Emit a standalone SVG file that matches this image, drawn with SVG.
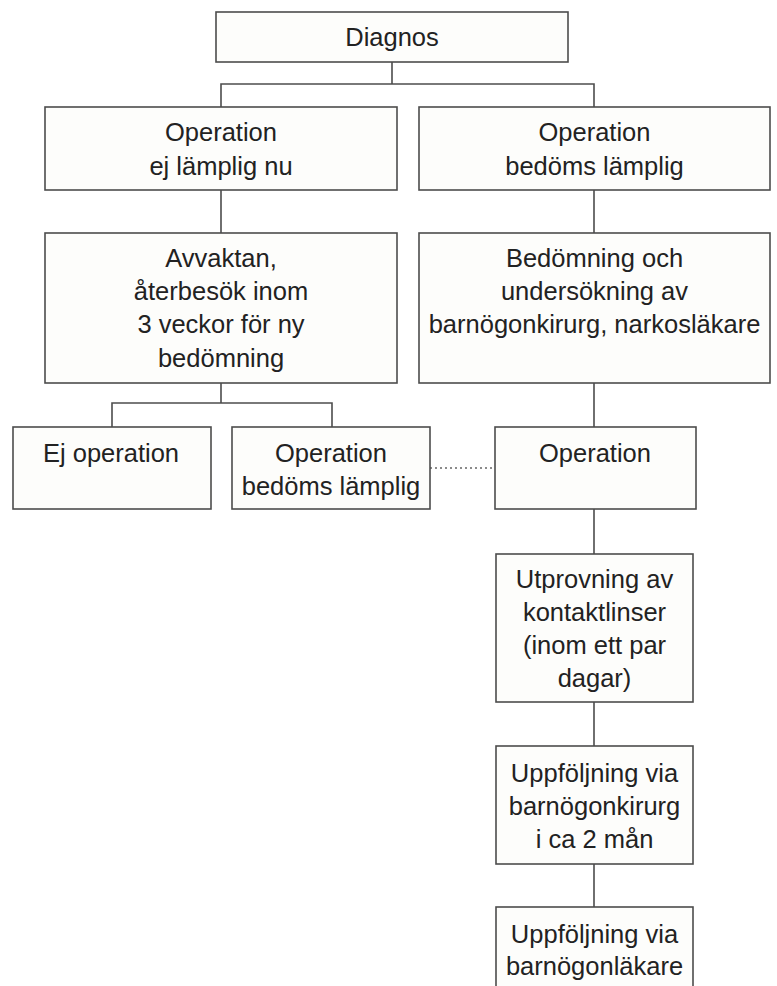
<svg xmlns="http://www.w3.org/2000/svg" width="777" height="986" viewBox="0 0 777 986">
<style>
.box{fill:#fdfdfb;stroke:#4d4d4d;stroke-width:1.6}
.t{font-family:"Liberation Sans",Arial,sans-serif;font-size:25.5px;fill:#222;text-anchor:middle}
.c{fill:none;stroke:#4d4d4d;stroke-width:1.6}
.d{fill:none;stroke:#666;stroke-width:1.5;stroke-dasharray:2 3}
</style>
<rect width="777" height="986" fill="#ffffff"/>
<g id="connectors">
<path class="c" d="M392 62V84M221 107V84H594V107"/>
<path class="c" d="M221 190V233M594 190V233"/>
<path class="c" d="M221 383V403M112 427V403H332V427"/>
<path class="c" d="M594 383V427M594 509V554M594 702V746M594 864V907"/>
<path class="d" d="M430 468H495"/>
</g>
<g id="diagnos"><rect class="box" x="216" y="12" width="352" height="50"/><text class="t" x="392" y="46">Diagnos</text></g>
<g id="op-ej"><rect class="box" x="45" y="107" width="352" height="83"/><text class="t" x="221" y="141">Operation</text><text class="t" x="221" y="175">ej lämplig nu</text></g>
<g id="op-lamplig"><rect class="box" x="419" y="107" width="351" height="83"/><text class="t" x="594.5" y="141">Operation</text><text class="t" x="594.5" y="175">bedöms lämplig</text></g>
<g id="avvaktan"><rect class="box" x="45" y="233" width="352" height="150"/><text class="t" x="221" y="267">Avvaktan,</text><text class="t" x="221" y="300">återbesök inom</text><text class="t" x="221" y="333">3 veckor för ny</text><text class="t" x="221" y="367">bedömning</text></g>
<g id="bedomning"><rect class="box" x="419" y="233" width="351" height="150"/><text class="t" x="594.5" y="267">Bedömning och</text><text class="t" x="594.5" y="300">undersökning av</text><text class="t" x="594.5" y="333">barnögonkirurg, narkosläkare</text></g>
<g id="ej-operation"><rect class="box" x="13" y="427" width="198" height="82"/><text class="t" x="111" y="462">Ej operation</text></g>
<g id="op-bedoms"><rect class="box" x="232" y="427" width="198" height="82"/><text class="t" x="331" y="462">Operation</text><text class="t" x="331" y="495">bedöms lämplig</text></g>
<g id="operation"><rect class="box" x="495" y="427" width="201" height="82"/><text class="t" x="595" y="462">Operation</text></g>
<g id="utprovning"><rect class="box" x="496" y="554" width="197" height="148"/><text class="t" x="594.5" y="588">Utprovning av</text><text class="t" x="594.5" y="621">kontaktlinser</text><text class="t" x="594.5" y="654">(inom ett par</text><text class="t" x="594.5" y="687">dagar)</text></g>
<g id="uppfoljning1"><rect class="box" x="496" y="746" width="197" height="118"/><text class="t" x="594.5" y="782">Uppföljning via</text><text class="t" x="594.5" y="815">barnögonkirurg</text><text class="t" x="594.5" y="848">i ca 2 mån</text></g>
<g id="uppfoljning2"><rect class="box" x="496" y="907" width="197" height="100"/><text class="t" x="594.5" y="943">Uppföljning via</text><text class="t" x="594.5" y="975">barnögonläkare</text></g>
</svg>
